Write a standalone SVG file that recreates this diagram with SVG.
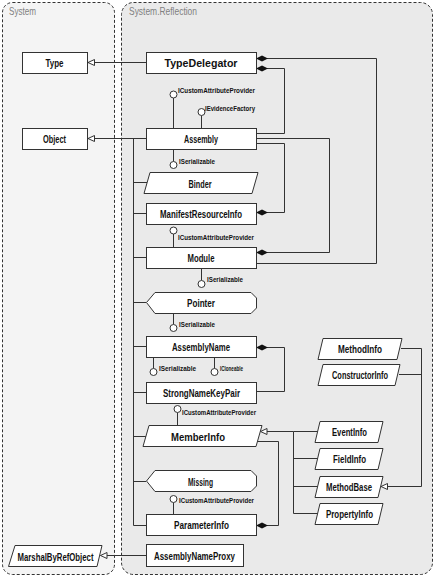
<svg xmlns="http://www.w3.org/2000/svg" width="435" height="577" viewBox="0 0 435 577">
<style>
.cont{stroke:#333;stroke-width:1;stroke-dasharray:3,2}
.title{font-family:"Liberation Sans",Arial,sans-serif;font-size:11px;fill:#808080}
.box{fill:#fff;stroke:#333;stroke-width:1}
.t{font-family:"Liberation Sans",Arial,sans-serif;font-size:11.5px;font-weight:bold;fill:#111;text-anchor:middle}
.i{font-family:"Liberation Sans",Arial,sans-serif;font-size:8px;font-weight:bold;fill:#111}
.c{fill:none;stroke:#333;stroke-width:1}
.lol{fill:#fff;stroke:#333;stroke-width:1}
</style>
<defs>
<marker id="tri" viewBox="0 0 8 8" refX="7" refY="3.5" markerWidth="8" markerHeight="8" orient="auto" markerUnits="userSpaceOnUse">
<path d="M0.5,0.5 L7,3.5 L0.5,6.5 Z" fill="#fff" stroke="#333" stroke-width="1"/>
</marker>
<marker id="dia" viewBox="0 0 12 7" refX="0" refY="3.5" markerWidth="12" markerHeight="7" orient="auto" markerUnits="userSpaceOnUse">
<path d="M0,3.5 L6,0.5 L12,3.5 L6,6.5 Z" fill="#111"/>
</marker>
</defs>
<g id="container-system">
<rect class="cont" x="2.5" y="2.5" width="112" height="572" rx="10" fill="#f4f4f4"/>
<text class="title" x="9" y="15" textLength="27" lengthAdjust="spacingAndGlyphs">System</text>
</g>
<g id="container-reflection">
<rect class="cont" x="121.5" y="2.5" width="311" height="572" rx="12" fill="#eaeaea"/>
<text class="title" x="129" y="15" textLength="68" lengthAdjust="spacingAndGlyphs">System.Reflection</text>
</g>
<g id="connectors">
<path class="c" d="M146,62.5 H88" marker-end="url(#tri)"/>
<path class="c" d="M146,138.5 H88" marker-end="url(#tri)"/>
<path class="c" d="M146,555.5 H100.5" marker-end="url(#tri)"/>
<path class="c" d="M133.5,138.5 V525.5"/>
<path class="c" d="M133.5,182.5 H147 M133.5,213.5 H146 M133.5,257.5 H146 M133.5,302.5 H146 M133.5,346.5 H146 M133.5,392.5 H146 M133.5,436.5 H146 M133.5,481.5 H146 M133.5,525.5 H146"/>
<path class="c" d="M256,58.5 H376.5 V263.5 H256" marker-start="url(#dia)"/>
<path class="c" d="M256,68.5 H284.5 V133.5 H256" marker-start="url(#dia)"/>
<path class="c" d="M256,252.5 H329.5 V138.5 H256" marker-start="url(#dia)"/>
<path class="c" d="M256,212.5 H284.5 V143.5 H256" marker-start="url(#dia)"/>
<path class="c" d="M256,347.5 H284.5 V391.5 H256" marker-start="url(#dia)"/>
<path class="c" d="M256,525.5 H278.5 V441.5 H257" marker-start="url(#dia)"/>
<path class="c" d="M293.5,431.5 H260.5" marker-end="url(#tri)"/>
<path class="c" d="M293.5,431.5 V513.5 M293.5,431.5 H318 M293.5,458.5 H318 M293.5,486.5 H318 M293.5,513.5 H318"/>
<path class="c" d="M401,348.5 H421.5 V486.5 H381" marker-end="url(#tri)"/>
<path class="c" d="M399,374.5 H421.5"/>
</g>
<g id="Type"><rect class="box" x="22.5" y="52.5" width="65" height="21"/><text class="t" x="54.5" y="67" textLength="18" lengthAdjust="spacingAndGlyphs">Type</text></g>
<g id="Object"><rect class="box" x="22.5" y="128.5" width="65" height="21"/><text class="t" x="54.5" y="143" textLength="23" lengthAdjust="spacingAndGlyphs">Object</text></g>
<g id="TypeDelegator"><rect class="box" x="146.5" y="52.5" width="110" height="21"/><text class="t" x="201" y="67" textLength="73" lengthAdjust="spacingAndGlyphs">TypeDelegator</text></g>
<g id="Assembly">
<path class="c" d="M173.5,98 V128 M201.5,115.5 V128 M173.5,149 V161.5"/>
<circle class="lol" cx="173.5" cy="94.5" r="3.5"/>
<circle class="lol" cx="201.5" cy="112" r="3.5"/>
<circle class="lol" cx="173.5" cy="165" r="3.5"/>
<text class="i" x="178" y="93" textLength="77" lengthAdjust="spacingAndGlyphs">ICustomAttributeProvider</text>
<text class="i" x="205" y="110.5" textLength="50" lengthAdjust="spacingAndGlyphs">IEvidenceFactory</text>
<text class="i" x="179" y="163.5" textLength="36" lengthAdjust="spacingAndGlyphs">ISerializable</text>
<rect class="box" x="146.5" y="128.5" width="110" height="21"/><text class="t" x="201" y="143" textLength="34" lengthAdjust="spacingAndGlyphs">Assembly</text></g>
<g id="Binder"><path class="box" d="M150,172.5 H258 L252,193.5 H144 Z"/><text class="t" x="200" y="187.5" textLength="23" lengthAdjust="spacingAndGlyphs">Binder</text></g>
<g id="ManifestResourceInfo"><rect class="box" x="146.5" y="203.5" width="110" height="21"/><text class="t" x="201" y="218" textLength="82" lengthAdjust="spacingAndGlyphs">ManifestResourceInfo</text></g>
<g id="Module">
<path class="c" d="M173.5,234 V247 M201.5,268 V280.5"/>
<circle class="lol" cx="173.5" cy="230.5" r="3.5"/>
<circle class="lol" cx="201.5" cy="284" r="3.5"/>
<text class="i" x="178" y="239.5" textLength="76" lengthAdjust="spacingAndGlyphs">ICustomAttributeProvider</text>
<text class="i" x="207" y="282" textLength="36" lengthAdjust="spacingAndGlyphs">ISerializable</text>
<rect class="box" x="146.5" y="247.5" width="110" height="21"/><text class="t" x="201" y="262" textLength="27" lengthAdjust="spacingAndGlyphs">Module</text></g>
<g id="Pointer">
<path class="c" d="M173.5,313 V324.5"/>
<circle class="lol" cx="173.5" cy="328" r="3.5"/>
<text class="i" x="179" y="327" textLength="36" lengthAdjust="spacingAndGlyphs">ISerializable</text>
<path class="box" d="M146.5,302.5 L155,292.5 H251 L256.5,298 V308 L251,313.5 H155 Z"/><text class="t" x="201" y="307" textLength="28" lengthAdjust="spacingAndGlyphs">Pointer</text></g>
<g id="AssemblyName">
<path class="c" d="M153.5,357 V368.5 M214.5,357 V368.5"/>
<circle class="lol" cx="153.5" cy="372" r="3.5"/>
<circle class="lol" cx="214.5" cy="372" r="3.5"/>
<text class="i" x="159" y="371" textLength="37" lengthAdjust="spacingAndGlyphs">ISerializable</text>
<text class="i" x="220" y="371" textLength="23" lengthAdjust="spacingAndGlyphs">ICloneable</text>
<rect class="box" x="146.5" y="336.5" width="110" height="21"/><text class="t" x="201" y="351" textLength="58" lengthAdjust="spacingAndGlyphs">AssemblyName</text></g>
<g id="StrongNameKeyPair"><rect class="box" x="146.5" y="382.5" width="110" height="21"/><text class="t" x="201.5" y="397" textLength="77" lengthAdjust="spacingAndGlyphs">StrongNameKeyPair</text></g>
<g id="MemberInfo">
<path class="c" d="M177.5,412.5 V425"/>
<circle class="lol" cx="177.5" cy="409" r="3.5"/>
<text class="i" x="182" y="414.5" textLength="74" lengthAdjust="spacingAndGlyphs">ICustomAttributeProvider</text>
<path class="box" d="M149,425.5 H262 L256,446.5 H143 Z"/><text class="t" x="198" y="440.5" textLength="54" lengthAdjust="spacingAndGlyphs">MemberInfo</text></g>
<g id="Missing"><path class="box" d="M146.5,481 L155,470.5 H251 L256.5,476 V486 L251,491.5 H155 Z"/><text class="t" x="200.5" y="485.5" textLength="25" lengthAdjust="spacingAndGlyphs">Missing</text></g>
<g id="ParameterInfo">
<path class="c" d="M173.5,502.5 V514"/>
<circle class="lol" cx="173.5" cy="499" r="3.5"/>
<text class="i" x="179" y="503" textLength="75" lengthAdjust="spacingAndGlyphs">ICustomAttributeProvider</text>
<rect class="box" x="146.5" y="514.5" width="110" height="21"/><text class="t" x="201.5" y="529" textLength="55" lengthAdjust="spacingAndGlyphs">ParameterInfo</text></g>
<g id="AssemblyNameProxy"><rect class="box" x="146.5" y="544.5" width="97" height="22"/><text class="t" x="194.5" y="560" textLength="81" lengthAdjust="spacingAndGlyphs">AssemblyNameProxy</text></g>
<g id="MarshalByRefObject"><path class="box" d="M15,545.5 H102 L97,566.5 H8.5 Z"/><text class="t" x="55.5" y="560.5" textLength="76" lengthAdjust="spacingAndGlyphs">MarshalByRefObject</text></g>
<g id="MethodInfo"><path class="box" d="M323,338.5 H402 L397,359.5 H318 Z"/><text class="t" x="360" y="353" textLength="44" lengthAdjust="spacingAndGlyphs">MethodInfo</text></g>
<g id="ConstructorInfo"><path class="box" d="M323,364.5 H400 L395,385.5 H318 Z"/><text class="t" x="360" y="379" textLength="56" lengthAdjust="spacingAndGlyphs">ConstructorInfo</text></g>
<g id="EventInfo"><path class="box" d="M320,421.5 H383 L378,442.5 H315 Z"/><text class="t" x="349.5" y="436" textLength="35" lengthAdjust="spacingAndGlyphs">EventInfo</text></g>
<g id="FieldInfo"><path class="box" d="M320,448.5 H383 L378,469.5 H315 Z"/><text class="t" x="349.5" y="463" textLength="33" lengthAdjust="spacingAndGlyphs">FieldInfo</text></g>
<g id="MethodBase"><path class="box" d="M320,476.5 H383 L378,497.5 H315 Z"/><text class="t" x="349" y="491" textLength="46" lengthAdjust="spacingAndGlyphs">MethodBase</text></g>
<g id="PropertyInfo"><path class="box" d="M320,503.5 H383 L378,524.5 H315 Z"/><text class="t" x="349.5" y="518" textLength="47" lengthAdjust="spacingAndGlyphs">PropertyInfo</text></g>
</svg>
